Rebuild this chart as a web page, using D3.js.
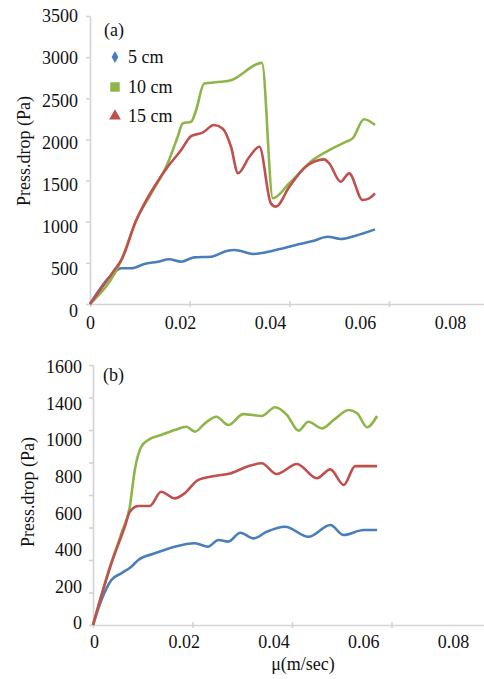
<!DOCTYPE html>
<html><head><meta charset="utf-8">
<script src="https://cdn.jsdelivr.net/npm/d3@7"></script>
<style>body{margin:0;background:#fff}svg{display:block}svg text{font-family:"Liberation Serif","Times New Roman",serif;fill:#111}</style>
</head><body>
<script>
const seriesNames = ["5 cm", "10 cm", "15 cm"];
const seriesColors = ["#4a7ebb", "#8db548", "#c0504d"];
const xTickValues = [0, 0.02, 0.04, 0.06, 0.08];
const xTickLabels = ["0", "0.02", "0.04", "0.06", "0.08"];
const yTicksA = [0, 500, 1000, 1500, 2000, 2500, 3000, 3500];
const yLabelsA = ["0", "500", "1000", "1500", "2000", "2500", "3000", "3500"];
const yTicksB = [0, 200, 400, 600, 800, 1000, 1200, 1400, 1600];
const yLabelsB = ["0", "200", "400", "600", "800", "1000", "1400", "1600"];

// Panel (a)
const a5x = [0,0.0043,0.0063,0.0083,0.0109,0.0136,0.0159,0.0183,0.0209,0.0243,0.0276,0.029,0.030,0.0327,0.0367,0.0413,0.0447,0.0477,0.0503,0.0533,0.0572];
const a5y = [0,352,434,434,486,514,543,514,567,575,648,656,648,608,648,717,765,818,790,830,907];
const a10x = [0,0.0063,0.0093,0.0123,0.0156,0.0176,0.0186,0.0203,0.0213,0.0229,0.0263,0.0283,0.0345,0.0367,0.040,0.0447,0.048,0.0513,0.0527,0.055,0.0572];
const a10y = [0,535,1020,1345,1710,2033,2195,2215,2357,2680,2700,2720,2930,1285,1467,1750,1870,1970,2013,2245,2175];
const a15x = [0,0.0049,0.0063,0.0093,0.0106,0.0129,0.0156,0.0183,0.0203,0.0226,0.0249,0.0266,0.0283,0.0297,0.032,0.034,0.0363,0.0373,0.040,0.0433,0.047,0.048,0.0503,0.052,0.0547,0.056,0.0572];
const a15y = [0,413,535,1020,1183,1425,1668,1871,2041,2082,2175,2134,1911,1590,1790,1911,1223,1183,1425,1668,1757,1709,1486,1588,1264,1284,1345];

// Panel (b)
const b5x = [0,0.0017,0.0037,0.0057,0.0077,0.0091,0.0124,0.0164,0.0205,0.0231,0.0252,0.0272,0.0296,0.0323,0.0349,0.0386,0.0433,0.0477,0.0504,0.0544,0.0571];
const b5y = [0,154,277,318,359,400,441,482,503,482,523,513,568,533,574,605,543,615,554,585,585];
const b10x = [0,0.0030,0.0057,0.0074,0.0084,0.0097,0.0111,0.0137,0.0164,0.0188,0.0205,0.0225,0.0248,0.0272,0.0302,0.0339,0.0366,0.039,0.0413,0.0433,0.046,0.0484,0.0514,0.0531,0.0551,0.0571];
const b10y = [0,318,564,728,954,1097,1138,1169,1200,1220,1190,1241,1282,1231,1298,1286,1340,1292,1196,1251,1210,1262,1323,1303,1217,1286];
const b15x = [0,0.0037,0.0064,0.0074,0.0091,0.0114,0.0137,0.0164,0.0184,0.0211,0.0245,0.0276,0.0309,0.0339,0.0369,0.041,0.045,0.0477,0.0504,0.0527,0.0571];
const b15y = [0,380,605,697,732,732,820,779,810,892,917,933,974,995,929,991,903,958,862,978,978];

const W = 484, H = 679;
const FONT = "Liberation Serif";
const svg = d3.select("body").append("svg").attr("width", W).attr("height", H)
  .attr("font-family", FONT);
const axisColor = "#d4d4d4";

function panel(cfg) {
  const g = svg.append("g");
  const x = d3.scaleLinear().domain([0, 0.08]).range(cfg.xr);
  const y = d3.scaleLinear().domain([0, cfg.ymax]).range(cfg.yr);
  // tick-mark axes (no labels)
  const gx = g.append("g").attr("transform", `translate(0,${cfg.yr[0]})`)
    .call(d3.axisBottom(x).tickValues(xTickValues).tickSize(4).tickSizeOuter(0).tickFormat(""));
  gx.select(".domain").attr("d", `M${cfg.xr[0]},0.5H${W}`);
  const gy = g.append("g").attr("transform", `translate(${cfg.xr[0]},0)`)
    .call(d3.axisLeft(y).tickValues(cfg.yTicks).tickSize(4).tickSizeOuter(0).tickFormat(""));
  [gx, gy].forEach(a => {
    a.selectAll("path,line").attr("stroke", axisColor).attr("stroke-width", 1.6);
  });
  gx.selectAll(".tick line").attr("y1", -3).attr("y2", 3);
  // label axes
  const xl = d3.scaleLinear().domain([0, 0.08]).range(cfg.xlr);
  const gxl = g.append("g").attr("transform", `translate(0,${cfg.xlY})`)
    .call(d3.axisBottom(xl).tickValues(xTickValues).tickSize(0).tickFormat((d, i) => xTickLabels[i]));
  gxl.attr("font-family", FONT).attr("font-size", 18);
  gxl.select(".domain").remove();
  gxl.selectAll("text").attr("dy", "0.71em").attr("y", 0).attr("fill", "#111");
  const yl = d3.scaleLinear().domain([0, cfg.yLabels.length - 1]).range(cfg.ylr);
  const gyl = g.append("g").attr("transform", `translate(${cfg.ylX},0)`)
    .call(d3.axisLeft(yl).tickValues(d3.range(cfg.yLabels.length)).tickSize(0).tickFormat((d, i) => cfg.yLabels[i]));
  gyl.attr("font-family", FONT).attr("font-size", 18);
  gyl.select(".domain").remove();
  gyl.selectAll("text").attr("x", 0).attr("fill", "#111");
  // title
  g.append("text").attr("transform", `translate(${cfg.tX},${cfg.tY}) rotate(-90)`)
    .attr("text-anchor", "middle").attr("dy", "0.35em").attr("font-size", 18).text("Press.drop (Pa)");
  g.append("text").attr("x", cfg.tagX).attr("y", cfg.tagY).attr("dy", "0.35em").attr("font-size", 18).text(cfg.tag);
  // lines
  const line = d3.line().x(d => x(d[0])).y(d => y(d[1])).curve(d3.curveMonotoneX);
  cfg.series.forEach((s, i) => {
    const pts = s[0].map((v, k) => [v, s[1][k]]);
    g.append("path").datum(pts).attr("d", line).attr("fill", "none")
      .attr("stroke", seriesColors[i]).attr("stroke-width", 2.6).attr("stroke-linejoin", "round");
  });
  return g;
}

panel({
  xr: [90, 90 + 0.08 * 4983], yr: [304, 16], ymax: 3500, yTicks: yTicksA,
  xlr: [90, 450], xlY: 316, ylr: [311, 16], ylX: 78, yLabels: yLabelsA,
  tX: 24, tY: 151, tag: "(a)", tagX: 104, tagY: 30,
  series: [[a5x, a5y], [a10x, a10y], [a15x, a15y]]
});
panel({
  xr: [93, 93 + 0.08 * 4975], yr: [625, 365], ymax: 1600, yTicks: yTicksB,
  xlr: [94, 453], xlY: 635, ylr: [623, 367], ylX: 82, yLabels: yLabelsB,
  tX: 28, tY: 492, tag: "(b)", tagX: 103, tagY: 375,
  series: [[b5x, b5y], [b10x, b10y], [b15x, b15y]]
});

svg.append("text").attr("x", 303).attr("y", 664).attr("dy", "0.35em").attr("text-anchor", "middle")
  .attr("font-size", 18).text("μ(m/sec)");

// legend
const legY = [57, 87, 116];
const sym = [d3.symbolDiamond, d3.symbolSquare, d3.symbolTriangle];
const symSize = [40, 90, 60];
const leg = svg.append("g");
seriesNames.forEach((n, i) => {
  leg.append("path").attr("d", d3.symbol(sym[i], symSize[i])())
    .attr("transform", `translate(115,${legY[i]})`).attr("fill", seriesColors[i]);
  leg.append("text").attr("x", 128).attr("y", legY[i]).attr("dy", "0.35em").attr("font-size", 18).text(n);
});
</script>
</body></html>
